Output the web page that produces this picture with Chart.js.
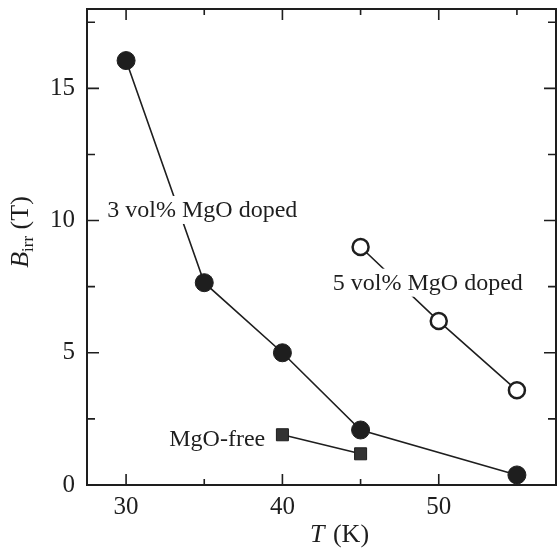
<!DOCTYPE html>
<html>
<head>
<meta charset="utf-8">
<script src="https://cdn.jsdelivr.net/npm/chart.js@4/dist/chart.umd.min.js"></script>
<style>
  body { margin: 0; background: #fff; }
  #wrap { width: 557px; height: 551px; }
</style>
</head>
<body>
<div id="wrap"><canvas id="chart"></canvas></div>
<script>
// Values
const temp3 = [30, 35, 40, 45, 55];
const birr3 = [16.05, 7.65, 5.0, 2.08, 0.38];
const temp5 = [45, 50, 55];
const birr5 = [9.0, 6.2, 3.58];
const tempFree = [40, 45];
const birrFree = [1.9, 1.18];

const xTickValues = [30, 40, 50];
const xMinorValues = [35, 45, 55];
const yTickValues = [0, 5, 10, 15];
const yMinorValues = [2.5, 7.5, 12.5, 17.5];

// in-plot labels (anchored in data units)
const labelTexts = ['3 vol% MgO doped', '5 vol% MgO doped', 'MgO-free'];
const labelT = [28.8, 49.3, 38.9];
const labelB = [10.4, 7.65, 1.75];
const labelAlign = ['left', 'center', 'right'];

const ink = '#1e1e1e';
const serif = '"Liberation Serif", "Times New Roman", serif';

function toPoints(xs, ys) {
    return xs.map((x, i) => ({ x: x, y: ys[i] }));
}

// Frame with inward ticks on all four sides
const framePlugin = {
    id: 'frame',
    beforeDatasetsDraw(chart) {
        const ctx = chart.ctx;
        const a = chart.chartArea;
        const xs = chart.scales.x;
        const ys = chart.scales.y;
        ctx.save();
        ctx.strokeStyle = ink;
        ctx.lineWidth = 2;
        ctx.strokeRect(a.left, a.top, a.right - a.left, a.bottom - a.top);

        ctx.lineWidth = 1.6;
        function xTick(v, len) {
            const px = xs.getPixelForValue(v);
            ctx.beginPath();
            ctx.moveTo(px, a.bottom); ctx.lineTo(px, a.bottom - len);
            ctx.moveTo(px, a.top); ctx.lineTo(px, a.top + len);
            ctx.stroke();
        }
        function yTick(v, len) {
            const py = ys.getPixelForValue(v);
            ctx.beginPath();
            ctx.moveTo(a.left, py); ctx.lineTo(a.left + len, py);
            ctx.moveTo(a.right, py); ctx.lineTo(a.right - len, py);
            ctx.stroke();
        }
        xTickValues.forEach(v => xTick(v, 11));
        xMinorValues.forEach(v => xTick(v, 6));
        yTickValues.forEach(v => yTick(v, 12));
        yMinorValues.forEach(v => yTick(v, 8));
        ctx.restore();
    }
};

// Labels, axis titles
const textPlugin = {
    id: 'texts',
    afterDatasetsDraw(chart) {
        const ctx = chart.ctx;
        const xs = chart.scales.x;
        const ys = chart.scales.y;
        ctx.save();
        ctx.font = '24px ' + serif;
        ctx.textBaseline = 'middle';
        labelTexts.forEach((txt, i) => {
            const px = xs.getPixelForValue(labelT[i]);
            const py = ys.getPixelForValue(labelB[i]);
            const w = ctx.measureText(txt).width;
            let left = px;
            if (labelAlign[i] === 'center') left = px - w / 2;
            if (labelAlign[i] === 'right') left = px - w;
            ctx.fillStyle = '#fff';
            ctx.fillRect(left - 3, py - 14, w + 6, 28);
            ctx.fillStyle = ink;
            ctx.textAlign = 'left';
            ctx.fillText(txt, left, py + 1);
        });

        // x title: T (K)
        ctx.textBaseline = 'alphabetic';
        const tItal = 'italic 26px ' + serif;
        const tReg = '26px ' + serif;
        ctx.font = tItal;
        const wT = ctx.measureText('T').width;
        let cx = 310;
        ctx.fillText('T', cx, 542);
        ctx.font = tReg;
        ctx.fillText(' (K)', cx + wT + 2, 542);

        // y title: B_irr (T), rotated
        ctx.translate(28, 232);
        ctx.rotate(-Math.PI / 2);
        ctx.font = tItal;
        const wB = ctx.measureText('B').width;
        ctx.font = '17px ' + serif;
        const wI = ctx.measureText('irr').width;
        ctx.font = tReg;
        const wP = ctx.measureText(' (T)').width;
        let x0 = -(wB + wI + wP) / 2;
        ctx.font = tItal;
        ctx.fillText('B', x0, 0);
        ctx.font = '17px ' + serif;
        ctx.fillText('irr', x0 + wB, 5);
        ctx.font = tReg;
        ctx.fillText(' (T)', x0 + wB + wI, 0);
        ctx.restore();
    }
};

const ctx = document.getElementById('chart').getContext('2d');
const chart = new Chart(ctx, {
    type: 'scatter',
    data: {
        datasets: [
            {
                label: '3 vol% MgO doped',
                data: toPoints(temp3, birr3),
                showLine: true,
                borderColor: ink,
                borderWidth: 1.6,
                pointStyle: 'circle',
                pointRadius: 9,
                pointBackgroundColor: ink,
                pointBorderColor: ink,
                pointBorderWidth: 1
            },
            {
                label: '5 vol% MgO doped',
                data: toPoints(temp5, birr5),
                showLine: true,
                borderColor: ink,
                borderWidth: 1.6,
                pointStyle: 'circle',
                pointRadius: 8,
                pointBackgroundColor: '#fff',
                pointBorderColor: ink,
                pointBorderWidth: 2.5
            },
            {
                label: 'MgO-free',
                data: toPoints(tempFree, birrFree),
                showLine: true,
                borderColor: ink,
                borderWidth: 1.6,
                pointStyle: 'rect',
                pointRadius: 8.5,
                pointBackgroundColor: '#333',
                pointBorderColor: ink,
                pointBorderWidth: 1
            }
        ]
    },
    options: {
        responsive: true,
        maintainAspectRatio: false,
        animation: false,
        layout: { autoPadding: false, padding: { top: 9, right: 1, left: 0, bottom: 0 } },
        plugins: {
            legend: { display: false },
            tooltip: { enabled: false }
        },
        scales: {
            x: {
                type: 'linear',
                min: 27.5,
                max: 57.5,
                afterBuildTicks: scale => { scale.ticks = xTickValues.map(v => ({ value: v })); },
                afterFit: scale => {
                    scale.height = 66;
                    scale.paddingLeft = 0;
                    scale.paddingRight = 0;
                },
                grid: { display: false, drawTicks: false },
                border: { display: false },
                ticks: {
                    padding: 7,
                    color: ink,
                    font: { family: serif, size: 25 }
                }
            },
            y: {
                type: 'linear',
                min: 0,
                max: 18,
                afterBuildTicks: scale => { scale.ticks = yTickValues.map(v => ({ value: v })); },
                afterFit: scale => {
                    scale.width = 87;
                    scale.paddingTop = 0;
                    scale.paddingBottom = 0;
                },
                grid: { display: false, drawTicks: false },
                border: { display: false },
                ticks: {
                    padding: 12,
                    color: ink,
                    font: { family: serif, size: 25 }
                }
            }
        }
    },
    plugins: [framePlugin, textPlugin]
});
</script>
</body>
</html>
